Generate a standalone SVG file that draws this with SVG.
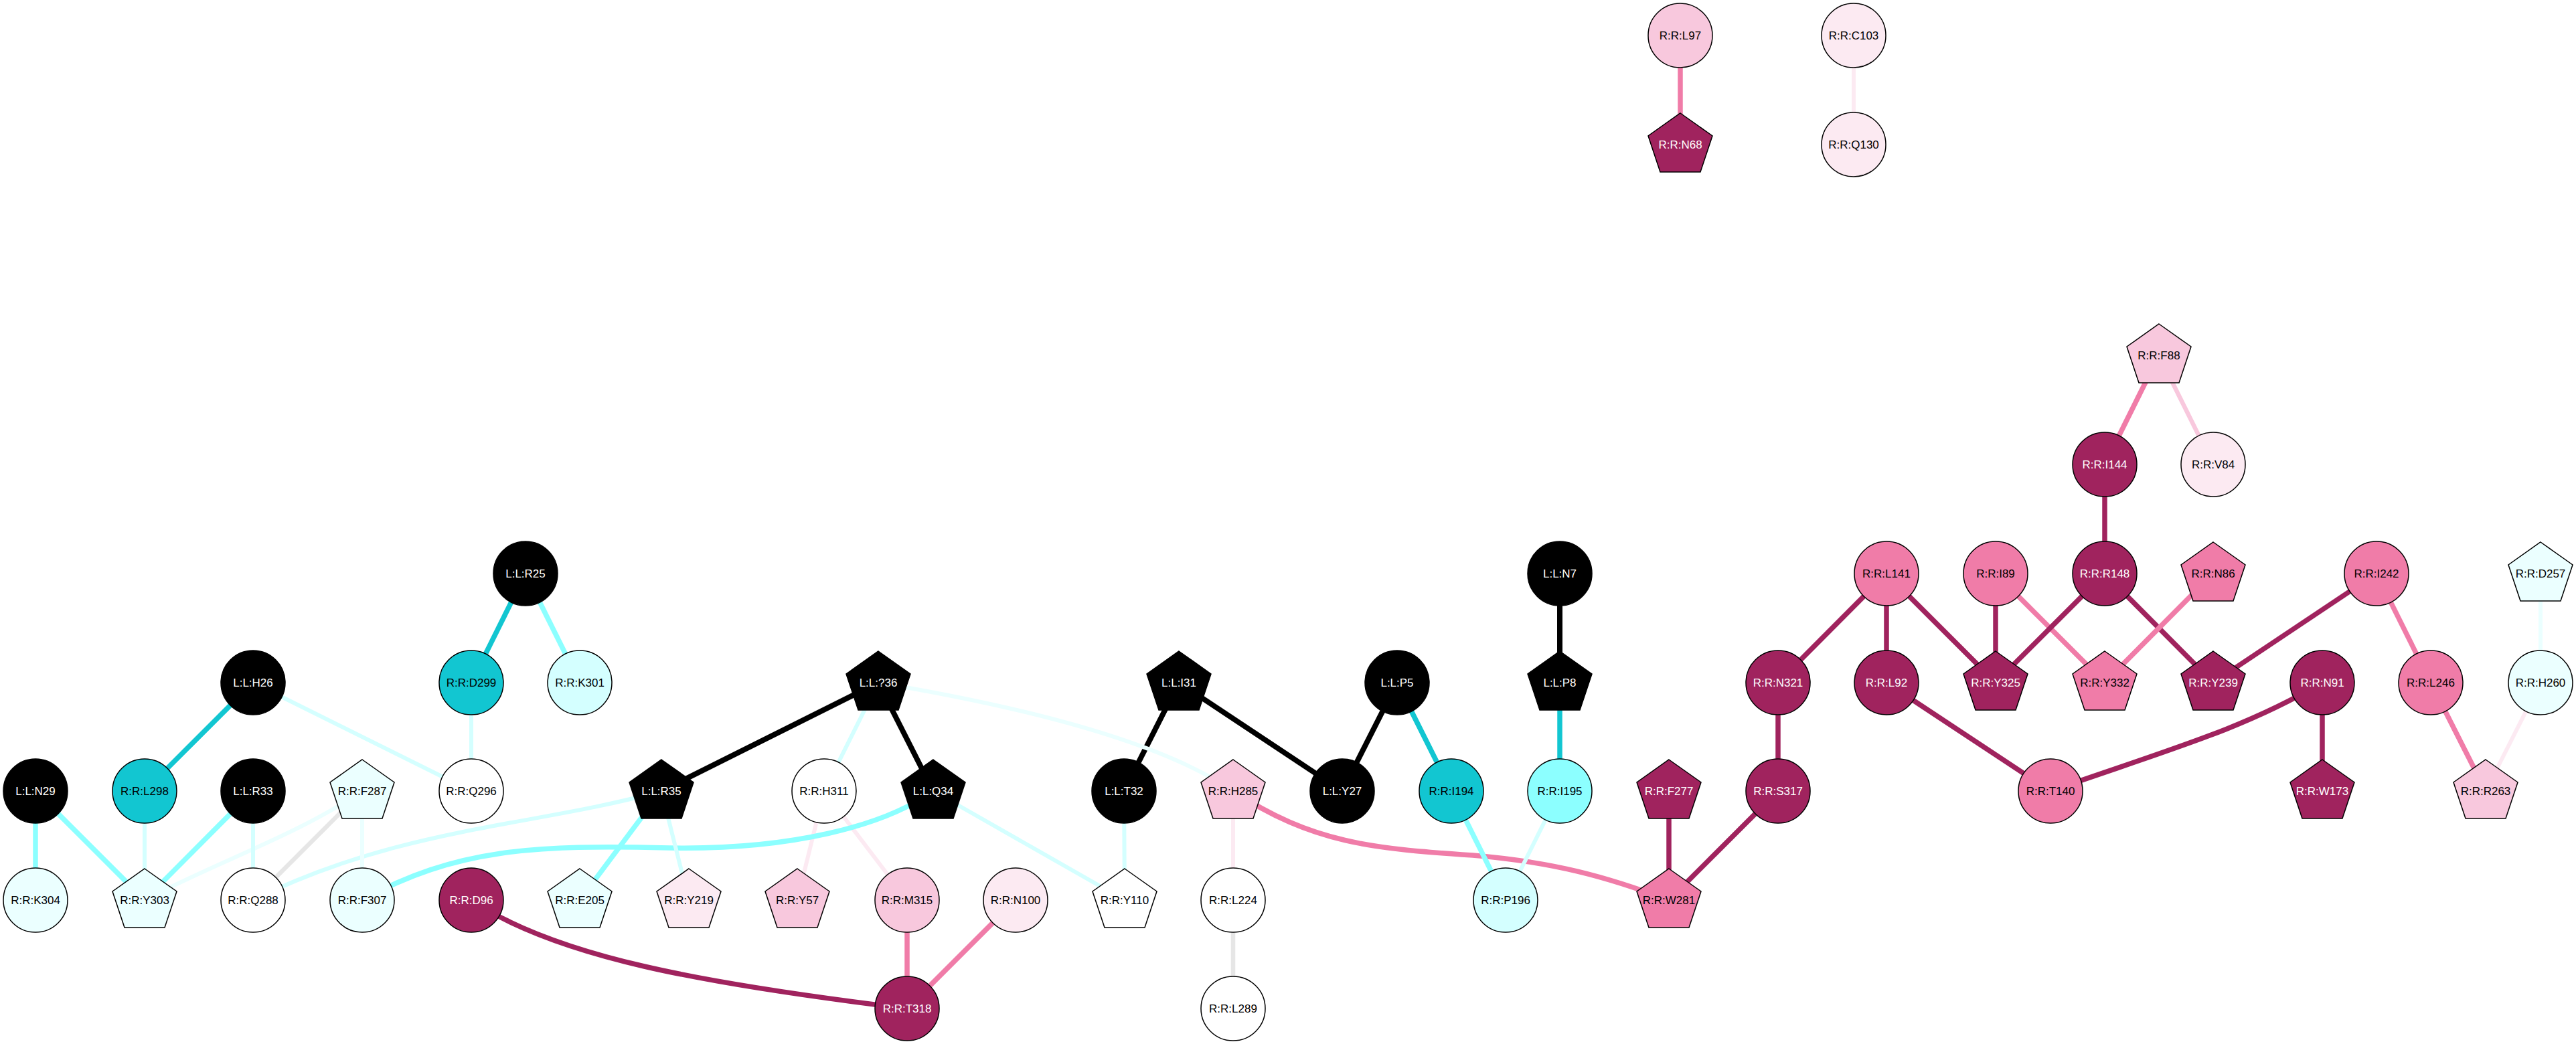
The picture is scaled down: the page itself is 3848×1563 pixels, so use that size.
<svg xmlns="http://www.w3.org/2000/svg" width="3848" height="1563" viewBox="0 0 3848 1563">
<style>
text{font-family:"Liberation Sans",Arial,sans-serif;font-size:17px;text-anchor:middle;fill:#000}
.node circle,.node polygon{stroke:#000;stroke-width:1.5}
.k{fill:#000}.t{fill:#12C6D1}.c{fill:#8CFFFF}.lc{fill:#D4FFFF}.vc{fill:#EBFFFF}.w{fill:#fff}
.m{fill:#A0235E}.p{fill:#F07CA8}.lp{fill:#F8C8DD}.vp{fill:#FCEAF2}
text.wt{fill:#fff}
#edges path,#edges line{fill:none;stroke-linecap:butt}
.ek{stroke:#000;stroke-width:8}.et{stroke:#12C6D1;stroke-width:7.5}.ec{stroke:#8CFFFF;stroke-width:7.5}
.elc{stroke:#D4FFFF;stroke-width:6}.evc{stroke:#EBFFFF;stroke-width:6}.em{stroke:#A0235E;stroke-width:7.5}
.ep{stroke:#F07CA8;stroke-width:7.5}.elp{stroke:#F8C8DD;stroke-width:6.5}.evp{stroke:#FCEAF2;stroke-width:6}.eg{stroke:#E6E6E6;stroke-width:6.5}
</style>
<rect width="3848" height="1563" fill="#fff"/>
<g id="edges">
<line class="ep" x1="2510" y1="53" x2="2510" y2="216"/>
<line class="evp" x1="2769" y1="53" x2="2769" y2="216"/>
<line class="ep" x1="3225" y1="531" x2="3144" y2="694"/>
<line class="elp" x1="3225" y1="531" x2="3306" y2="694"/>
<line class="em" x1="3144" y1="694" x2="3144" y2="857"/>
<line class="em" x1="2818" y1="857" x2="2656" y2="1020"/>
<line class="em" x1="2818" y1="857" x2="2818" y2="1020"/>
<line class="em" x1="2818" y1="857" x2="2981" y2="1020"/>
<line class="em" x1="2981" y1="857" x2="2981" y2="1020"/>
<line class="ep" x1="2981" y1="857" x2="3144" y2="1020"/>
<line class="em" x1="3144" y1="857" x2="2981" y2="1020"/>
<line class="em" x1="3144" y1="857" x2="3306" y2="1020"/>
<line class="ep" x1="3306" y1="857" x2="3144" y2="1020"/>
<line class="em" x1="3550" y1="857" x2="3306" y2="1020"/>
<line class="ep" x1="3550" y1="857" x2="3631" y2="1020"/>
<line class="ep" x1="3631" y1="1020" x2="3713" y2="1182"/>
<line class="evc" x1="3795" y1="857" x2="3795" y2="1020"/>
<line class="evp" x1="3795" y1="1020" x2="3713" y2="1182"/>
<line class="em" x1="2818" y1="1020" x2="3063" y2="1182"/>
<path class="em" d="M3469,1020 C3350,1090 3240,1120 3063,1182"/>
<line class="em" x1="3469" y1="1020" x2="3469" y2="1182"/>
<line class="em" x1="2656" y1="1020" x2="2656" y2="1182"/>
<line class="em" x1="2656" y1="1182" x2="2493" y2="1345"/>
<line class="em" x1="2493" y1="1182" x2="2493" y2="1345"/>
<path class="ep" d="M1842,1182 C1960,1260 2050,1268 2200,1278 C2320,1288 2400,1310 2493,1345"/>
<line class="ek" x1="2330" y1="857" x2="2330" y2="1020"/>
<line class="et" x1="2330" y1="1020" x2="2330" y2="1182"/>
<line class="ek" x1="2087" y1="1020" x2="2005" y2="1182"/>
<line class="et" x1="2087" y1="1020" x2="2168" y2="1182"/>
<line class="ec" x1="2168" y1="1182" x2="2249" y2="1345"/>
<line class="elc" x1="2330" y1="1182" x2="2249" y2="1345"/>
<line class="ek" x1="1761" y1="1020" x2="1679" y2="1182"/>
<line class="ek" x1="1761" y1="1020" x2="2005" y2="1182"/>
<line class="elc" x1="1679" y1="1182" x2="1680" y2="1345"/>
<path class="evc" d="M1312,1020 Q1700,1085 1842,1182"/>
<line class="ek" x1="1312" y1="1020" x2="988" y2="1182"/>
<line class="elc" x1="1312" y1="1020" x2="1231" y2="1182"/>
<line class="ek" x1="1312" y1="1020" x2="1394" y2="1182"/>
<line class="evp" x1="1231" y1="1182" x2="1191" y2="1345"/>
<line class="evp" x1="1231" y1="1182" x2="1355" y2="1345"/>
<line class="elc" x1="1394" y1="1182" x2="1680" y2="1345"/>
<path class="ec" d="M1394,1182 C1320,1235 1180,1270 1000,1267 C800,1262 680,1268 541,1345"/>
<line class="ep" x1="1355" y1="1345" x2="1355" y2="1507"/>
<line class="ep" x1="1517" y1="1345" x2="1355" y2="1507"/>
<path class="em" d="M704,1345 C830,1430 1050,1470 1355,1507"/>
<line class="evp" x1="1842" y1="1182" x2="1842" y2="1345"/>
<line class="eg" x1="1842" y1="1345" x2="1842" y2="1507"/>
<line class="ec" x1="988" y1="1182" x2="866" y2="1345"/>
<line class="elc" x1="988" y1="1182" x2="1029" y2="1345"/>
<path class="elc" d="M988,1182 C800,1235 600,1235 378,1345"/>
<path class="evc" d="M541,1182 C440,1250 330,1285 216,1345"/>
<line class="eg" x1="541" y1="1182" x2="378" y2="1345"/>
<line class="evc" x1="541" y1="1182" x2="541" y2="1345"/>
<line class="ec" x1="378" y1="1182" x2="216" y2="1345"/>
<line class="elc" x1="378" y1="1182" x2="378" y2="1345"/>
<line class="elc" x1="216" y1="1182" x2="216" y2="1345"/>
<line class="ec" x1="53" y1="1182" x2="53" y2="1345"/>
<line class="ec" x1="53" y1="1182" x2="216" y2="1345"/>
<line class="et" x1="378" y1="1020" x2="216" y2="1182"/>
<line class="elc" x1="378" y1="1020" x2="704" y2="1182"/>
<line class="et" x1="785" y1="857" x2="704" y2="1020"/>
<line class="ec" x1="785" y1="857" x2="866" y2="1020"/>
<line class="elc" x1="704" y1="1020" x2="704" y2="1182"/>
</g>
<g id="nodes">
<g id="n-L97" class="node"><circle class="lp" cx="2510" cy="53" r="48"/><text x="2510" y="59">R:R:L97</text></g>
<g id="n-N68" class="node"><polygon class="m" transform="translate(2510,216)" points="0,-47 48,-13 30,41 -30,41 -48,-13"/><text class="wt" x="2510" y="222">R:R:N68</text></g>
<g id="n-C103" class="node"><circle class="vp" cx="2769" cy="53" r="48"/><text x="2769" y="59">R:R:C103</text></g>
<g id="n-Q130" class="node"><circle class="vp" cx="2769" cy="216" r="48"/><text x="2769" y="222">R:R:Q130</text></g>
<g id="n-F88" class="node"><polygon class="lp" transform="translate(3225,531)" points="0,-47 48,-13 30,41 -30,41 -48,-13"/><text x="3225" y="537">R:R:F88</text></g>
<g id="n-I144" class="node"><circle class="m" cx="3144" cy="694" r="48"/><text class="wt" x="3144" y="700">R:R:I144</text></g>
<g id="n-V84" class="node"><circle class="vp" cx="3306" cy="694" r="48"/><text x="3306" y="700">R:R:V84</text></g>
<g id="n-R25" class="node"><circle class="k" cx="785" cy="857" r="48"/><text class="wt" x="785" y="863">L:L:R25</text></g>
<g id="n-N7" class="node"><circle class="k" cx="2330" cy="857" r="48"/><text class="wt" x="2330" y="863">L:L:N7</text></g>
<g id="n-L141" class="node"><circle class="p" cx="2818" cy="857" r="48"/><text x="2818" y="863">R:R:L141</text></g>
<g id="n-I89" class="node"><circle class="p" cx="2981" cy="857" r="48"/><text x="2981" y="863">R:R:I89</text></g>
<g id="n-R148" class="node"><circle class="m" cx="3144" cy="857" r="48"/><text class="wt" x="3144" y="863">R:R:R148</text></g>
<g id="n-N86" class="node"><polygon class="p" transform="translate(3306,857)" points="0,-47 48,-13 30,41 -30,41 -48,-13"/><text x="3306" y="863">R:R:N86</text></g>
<g id="n-I242" class="node"><circle class="p" cx="3550" cy="857" r="48"/><text x="3550" y="863">R:R:I242</text></g>
<g id="n-D257" class="node"><polygon class="vc" transform="translate(3795,857)" points="0,-47 48,-13 30,41 -30,41 -48,-13"/><text x="3795" y="863">R:R:D257</text></g>
<g id="n-H26" class="node"><circle class="k" cx="378" cy="1020" r="48"/><text class="wt" x="378" y="1026">L:L:H26</text></g>
<g id="n-D299" class="node"><circle class="t" cx="704" cy="1020" r="48"/><text x="704" y="1026">R:R:D299</text></g>
<g id="n-K301" class="node"><circle class="lc" cx="866" cy="1020" r="48"/><text x="866" y="1026">R:R:K301</text></g>
<g id="n-X36" class="node"><polygon class="k" transform="translate(1312,1020)" points="0,-47 48,-13 30,41 -30,41 -48,-13"/><text class="wt" x="1312" y="1026">L:L:?36</text></g>
<g id="n-I31" class="node"><polygon class="k" transform="translate(1761,1020)" points="0,-47 48,-13 30,41 -30,41 -48,-13"/><text class="wt" x="1761" y="1026">L:L:I31</text></g>
<g id="n-P5" class="node"><circle class="k" cx="2087" cy="1020" r="48"/><text class="wt" x="2087" y="1026">L:L:P5</text></g>
<g id="n-P8" class="node"><polygon class="k" transform="translate(2330,1020)" points="0,-47 48,-13 30,41 -30,41 -48,-13"/><text class="wt" x="2330" y="1026">L:L:P8</text></g>
<g id="n-N321" class="node"><circle class="m" cx="2656" cy="1020" r="48"/><text class="wt" x="2656" y="1026">R:R:N321</text></g>
<g id="n-L92" class="node"><circle class="m" cx="2818" cy="1020" r="48"/><text class="wt" x="2818" y="1026">R:R:L92</text></g>
<g id="n-Y325" class="node"><polygon class="m" transform="translate(2981,1020)" points="0,-47 48,-13 30,41 -30,41 -48,-13"/><text class="wt" x="2981" y="1026">R:R:Y325</text></g>
<g id="n-Y332" class="node"><polygon class="p" transform="translate(3144,1020)" points="0,-47 48,-13 30,41 -30,41 -48,-13"/><text x="3144" y="1026">R:R:Y332</text></g>
<g id="n-Y239" class="node"><polygon class="m" transform="translate(3306,1020)" points="0,-47 48,-13 30,41 -30,41 -48,-13"/><text class="wt" x="3306" y="1026">R:R:Y239</text></g>
<g id="n-N91" class="node"><circle class="m" cx="3469" cy="1020" r="48"/><text class="wt" x="3469" y="1026">R:R:N91</text></g>
<g id="n-L246" class="node"><circle class="p" cx="3631" cy="1020" r="48"/><text x="3631" y="1026">R:R:L246</text></g>
<g id="n-H260" class="node"><circle class="vc" cx="3795" cy="1020" r="48"/><text x="3795" y="1026">R:R:H260</text></g>
<g id="n-N29" class="node"><circle class="k" cx="53" cy="1182" r="48"/><text class="wt" x="53" y="1188">L:L:N29</text></g>
<g id="n-L298" class="node"><circle class="t" cx="216" cy="1182" r="48"/><text x="216" y="1188">R:R:L298</text></g>
<g id="n-R33" class="node"><circle class="k" cx="378" cy="1182" r="48"/><text class="wt" x="378" y="1188">L:L:R33</text></g>
<g id="n-F287" class="node"><polygon class="vc" transform="translate(541,1182)" points="0,-47 48,-13 30,41 -30,41 -48,-13"/><text x="541" y="1188">R:R:F287</text></g>
<g id="n-Q296" class="node"><circle class="w" cx="704" cy="1182" r="48"/><text x="704" y="1188">R:R:Q296</text></g>
<g id="n-R35" class="node"><polygon class="k" transform="translate(988,1182)" points="0,-47 48,-13 30,41 -30,41 -48,-13"/><text class="wt" x="988" y="1188">L:L:R35</text></g>
<g id="n-H311" class="node"><circle class="w" cx="1231" cy="1182" r="48"/><text x="1231" y="1188">R:R:H311</text></g>
<g id="n-Q34" class="node"><polygon class="k" transform="translate(1394,1182)" points="0,-47 48,-13 30,41 -30,41 -48,-13"/><text class="wt" x="1394" y="1188">L:L:Q34</text></g>
<g id="n-T32" class="node"><circle class="k" cx="1679" cy="1182" r="48"/><text class="wt" x="1679" y="1188">L:L:T32</text></g>
<g id="n-H285" class="node"><polygon class="lp" transform="translate(1842,1182)" points="0,-47 48,-13 30,41 -30,41 -48,-13"/><text x="1842" y="1188">R:R:H285</text></g>
<g id="n-Y27" class="node"><circle class="k" cx="2005" cy="1182" r="48"/><text class="wt" x="2005" y="1188">L:L:Y27</text></g>
<g id="n-I194" class="node"><circle class="t" cx="2168" cy="1182" r="48"/><text x="2168" y="1188">R:R:I194</text></g>
<g id="n-I195" class="node"><circle class="c" cx="2330" cy="1182" r="48"/><text x="2330" y="1188">R:R:I195</text></g>
<g id="n-F277" class="node"><polygon class="m" transform="translate(2493,1182)" points="0,-47 48,-13 30,41 -30,41 -48,-13"/><text class="wt" x="2493" y="1188">R:R:F277</text></g>
<g id="n-S317" class="node"><circle class="m" cx="2656" cy="1182" r="48"/><text class="wt" x="2656" y="1188">R:R:S317</text></g>
<g id="n-T140" class="node"><circle class="p" cx="3063" cy="1182" r="48"/><text x="3063" y="1188">R:R:T140</text></g>
<g id="n-W173" class="node"><polygon class="m" transform="translate(3469,1182)" points="0,-47 48,-13 30,41 -30,41 -48,-13"/><text class="wt" x="3469" y="1188">R:R:W173</text></g>
<g id="n-R263" class="node"><polygon class="lp" transform="translate(3713,1182)" points="0,-47 48,-13 30,41 -30,41 -48,-13"/><text x="3713" y="1188">R:R:R263</text></g>
<g id="n-K304" class="node"><circle class="vc" cx="53" cy="1345" r="48"/><text x="53" y="1351">R:R:K304</text></g>
<g id="n-Y303" class="node"><polygon class="vc" transform="translate(216,1345)" points="0,-47 48,-13 30,41 -30,41 -48,-13"/><text x="216" y="1351">R:R:Y303</text></g>
<g id="n-Q288" class="node"><circle class="w" cx="378" cy="1345" r="48"/><text x="378" y="1351">R:R:Q288</text></g>
<g id="n-F307" class="node"><circle class="vc" cx="541" cy="1345" r="48"/><text x="541" y="1351">R:R:F307</text></g>
<g id="n-D96" class="node"><circle class="m" cx="704" cy="1345" r="48"/><text class="wt" x="704" y="1351">R:R:D96</text></g>
<g id="n-E205" class="node"><polygon class="vc" transform="translate(866,1345)" points="0,-47 48,-13 30,41 -30,41 -48,-13"/><text x="866" y="1351">R:R:E205</text></g>
<g id="n-Y219" class="node"><polygon class="vp" transform="translate(1029,1345)" points="0,-47 48,-13 30,41 -30,41 -48,-13"/><text x="1029" y="1351">R:R:Y219</text></g>
<g id="n-Y57" class="node"><polygon class="lp" transform="translate(1191,1345)" points="0,-47 48,-13 30,41 -30,41 -48,-13"/><text x="1191" y="1351">R:R:Y57</text></g>
<g id="n-M315" class="node"><circle class="lp" cx="1355" cy="1345" r="48"/><text x="1355" y="1351">R:R:M315</text></g>
<g id="n-N100" class="node"><circle class="vp" cx="1517" cy="1345" r="48"/><text x="1517" y="1351">R:R:N100</text></g>
<g id="n-Y110" class="node"><polygon class="w" transform="translate(1680,1345)" points="0,-47 48,-13 30,41 -30,41 -48,-13"/><text x="1680" y="1351">R:R:Y110</text></g>
<g id="n-L224" class="node"><circle class="w" cx="1842" cy="1345" r="48"/><text x="1842" y="1351">R:R:L224</text></g>
<g id="n-P196" class="node"><circle class="lc" cx="2249" cy="1345" r="48"/><text x="2249" y="1351">R:R:P196</text></g>
<g id="n-W281" class="node"><polygon class="p" transform="translate(2493,1345)" points="0,-47 48,-13 30,41 -30,41 -48,-13"/><text x="2493" y="1351">R:R:W281</text></g>
<g id="n-T318" class="node"><circle class="m" cx="1355" cy="1507" r="48"/><text class="wt" x="1355" y="1513">R:R:T318</text></g>
<g id="n-L289" class="node"><circle class="w" cx="1842" cy="1507" r="48"/><text x="1842" y="1513">R:R:L289</text></g>
</g>
</svg>
